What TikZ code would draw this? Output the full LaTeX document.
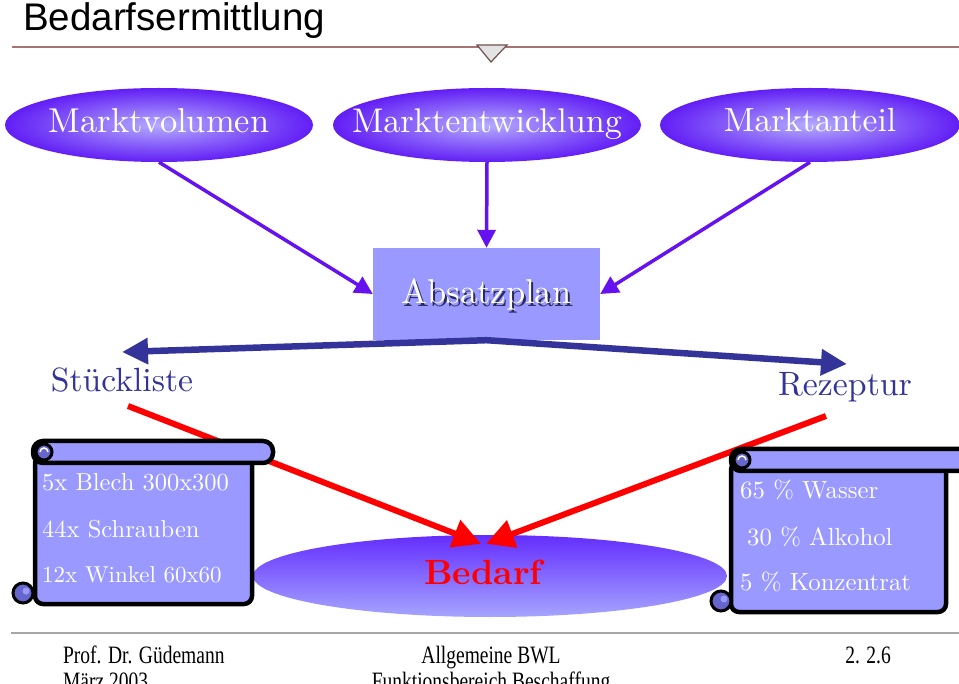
\documentclass[tikz,border=0pt]{standalone}
\usepackage{fontspec}
\usepackage{graphicx}
\newfontfamily\titlefont{Liberation Sans}
\newfontfamily\footfont{Liberation Serif}
\usetikzlibrary{shapes.geometric,arrows.meta,calc}
\definecolor{violetE}{RGB}{98,30,245}
\definecolor{violetC}{RGB}{180,172,255}
\definecolor{boxblue}{RGB}{153,153,255}
\definecolor{navyblue}{RGB}{51,51,153}
\definecolor{shadowc}{RGB}{40,40,90}
\definecolor{arrowviolet}{RGB}{102,17,240}
\definecolor{titleline}{RGB}{165,115,115}
\definecolor{curlblue}{RGB}{102,102,204}
\definecolor{bedTop}{RGB}{100,45,255}
\definecolor{bedBot}{RGB}{165,165,255}
\newcommand\bigtxt[2]{\scalebox{#1}{\fontsize{10}{12}\selectfont #2}}
\tikzset{
  topell/.style={ellipse, minimum width=308pt, minimum height=74pt, inner sep=0pt,
    inner color=violetC, outer color=violetE},
  elltext/.style={text=white, inner sep=0pt, anchor=base},
  varrow/.style={draw=arrowviolet, line width=3.5pt, -{Triangle[length=18pt,width=18pt]}},
  navyarrow/.style={draw=navyblue, line width=6.5pt, line join=miter,
    {Triangle[length=26pt,width=25pt]}-{Triangle[length=26pt,width=25pt]}},
  redarrow/.style={draw=red, line width=6pt, -{Triangle[length=28pt,width=28pt]}},
  sidelabel/.style={text=navyblue, inner sep=0pt, anchor=base},
  scrollline/.style={draw=black, line width=4.5pt, fill=boxblue, line join=round},
  curl/.style={draw=black, line width=3pt, fill=curlblue},
  scrolltext/.style={anchor=base west, inner sep=0pt, text=white},
  foot/.style={inner sep=0pt, xscale=.78, font=\footfont\fontsize{25}{27}\selectfont}
}
\begin{document}
\begin{tikzpicture}[x=1pt,y=-1pt]
\path[use as bounding box] (0,0) rectangle (959,684);
\clip (0,0) rectangle (959,684);

% title
\node[anchor=base west, inner sep=0pt, font=\titlefont\fontsize{38.5}{42}\selectfont] (title) at (23,31) {Bedarfsermittlung};
\draw[titleline, line width=2pt] (12,47) -- (959,47);
\draw[fill=gray!22, draw=titleline!70!black, line width=1.2pt] (477,45) -- (507,45) -- (491,62) -- cycle;

% top ellipses
\node[topell] (mv) at (159,125) {};
\node[topell] (me) at (487,125) {};
\node[topell, minimum width=300pt] (ma) at (810,125) {};
\node[elltext] (mvtext) at ($(mv.center)+(0,8)$) {\bigtxt{3.45}{Marktvolumen}};
\node[elltext] (metext) at ($(me.center)+(0,8)$) {\bigtxt{3.42}{Marktentwicklung}};
\node[elltext] (matext) at ($(ma.center)+(0,7)$) {\bigtxt{3.35}{Marktanteil}};

% Absatzplan
\node[rectangle, fill=boxblue, minimum width=227pt, minimum height=92pt, inner sep=0pt] (ap) at (486.5,294) {};
\node[text=white, inner sep=0pt, anchor=base] (aptext) at ($(ap.center)+(0,10)$) {\bigtxt{3.45}{\makebox[0pt][l]{\hspace{0.6pt}\raisebox{-0.6pt}{\textcolor{shadowc}{Absatzplan}}}Absatzplan}};

\draw[varrow] (mv.south) -- (ap.west);
\draw[varrow] (me.south) -- (ap.north);
\draw[varrow] (ma.south) -- (ap.east);

% Stückliste / Rezeptur
\node[sidelabel] (stk) at (122,392) {\bigtxt{3.36}{Stückliste}};
\node[sidelabel] (rez) at (845,396) {\bigtxt{3.38}{Rezeptur}};
\coordinate (stkTip) at (122,352);
\coordinate (rezTip) at (847,364);
\draw[navyarrow] (stkTip) -- (ap.south) -- (rezTip);

% Bedarf
\node[ellipse, minimum width=474pt, minimum height=82pt, inner sep=0pt, top color=bedTop, bottom color=bedBot] (bd) at (490,576) {};
\node[text=red, inner sep=0pt] (bdtext) at (483,572) {\bigtxt{3.5}{\bfseries Bedarf}};
\coordinate (redL) at (128,406);
\coordinate (redR) at (826,416);
\draw[redarrow] (redL) -- ($(bd.north)+(-9,9)$);
\draw[redarrow] (redR) -- ($(bd.north)+(-4,9)$);

% left scroll
\draw[scrollline, rounded corners=8pt] (35,455) rectangle (252,604);
\draw[curl] (23,593) circle (10);
\fill[boxblue] (26,591) circle (3.5);
\draw[scrollline, rounded corners=10pt] (33,441) rectangle (273,463);
\draw[curl] (44,452) circle (8);
\draw[white, line width=1.5pt] (40,452) arc (180:360:4);
\node[scrolltext] (l1) at (42,491) {\bigtxt{2.45}{5x Blech 300x300}};
\node[scrolltext] (l2) at (42,537) {\bigtxt{2.45}{44x Schrauben}};
\node[scrolltext] (l3) at (42,582) {\bigtxt{2.3}{12x Winkel 60x60}};

% right scroll
\draw[scrollline, rounded corners=8pt] (731,462) rectangle (946,612);
\draw[curl] (721,601) circle (10);
\fill[boxblue] (724,599) circle (3.5);
\draw[scrollline, rounded corners=10pt] (731,449) rectangle (985,471);
\draw[curl] (742,460) circle (8);
\draw[white, line width=1.5pt] (738,460) arc (180:360:4);
\node[scrolltext] (r1) at (740,499) {\bigtxt{2.48}{65 \% Wasser}};
\node[scrolltext] (r2) at (747,545) {\bigtxt{2.48}{30 \% Alkohol}};
\node[scrolltext] (r3) at (740,590) {\bigtxt{2.48}{5 \% Konzentrat}};

% footer
\draw[gray!70, line width=1.5pt] (11,633) -- (959,633);
\node[foot, anchor=base west] (f1) at (63,663) {Prof. Dr. Güdemann};
\node[foot, anchor=base west] (f2) at (63,689) {März 2003};
\node[foot, anchor=base] (f3) at (491,663) {Allgemeine BWL};
\node[foot, anchor=base] (f4) at (491,689) {Funktionsbereich Beschaffung};
\node[foot, anchor=base] (f5) at (868,663) {2. 2.6};
\end{tikzpicture}
\end{document}
